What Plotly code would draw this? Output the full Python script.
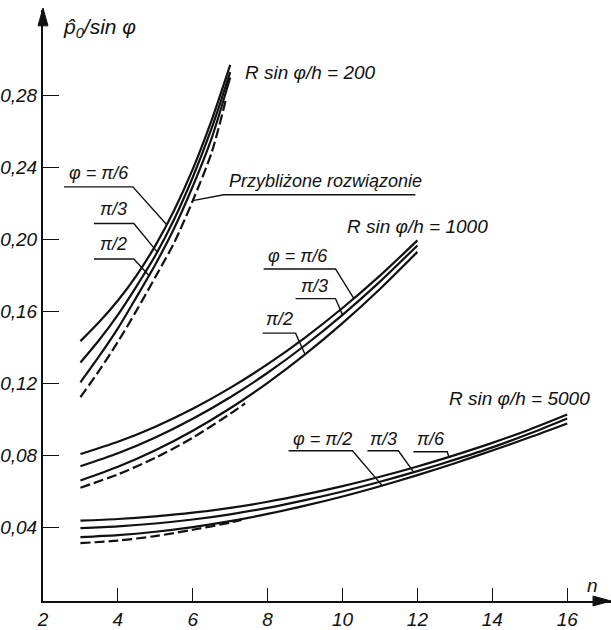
import numpy as np
import plotly.graph_objects as go

# ---------------- data ----------------
# R sin(phi)/h = 200
n200 = [3, 3.5, 4, 4.5, 5, 5.5, 6, 6.5, 7]
p200_pi6 = [0.1434, 0.1540, 0.1660, 0.1800, 0.1965, 0.2160, 0.2390, 0.2660, 0.2970]
p200_pi3 = [0.1315, 0.1440, 0.1580, 0.1740, 0.1910, 0.2110, 0.2345, 0.2615, 0.2930]
p200_pi2 = [0.1205, 0.1350, 0.1505, 0.1680, 0.1860, 0.2060, 0.2295, 0.2560, 0.2900]
n200_apx = [3, 3.5, 4, 4.5, 5, 5.5, 6, 6.5, 6.9]
p200_apx = [0.1123, 0.1270, 0.1430, 0.1605, 0.1790, 0.1980, 0.2215, 0.2480, 0.2790]

# R sin(phi)/h = 1000
n1000 = [3, 4, 5, 6, 7, 8, 9, 10, 11, 12]
p1000_pi6 = [0.0806, 0.0874, 0.0958, 0.1058, 0.1174, 0.1306, 0.1454, 0.1618, 0.1798, 0.1994]
p1000_pi3 = [0.0738, 0.0810, 0.0898, 0.1002, 0.1122, 0.1258, 0.1411, 0.1580, 0.1765, 0.1966]
p1000_pi2 = [0.0659, 0.0735, 0.0827, 0.0936, 0.1061, 0.1202, 0.1360, 0.1534, 0.1724, 0.1930]
n1000_apx = [3, 4, 5, 6, 7, 7.4]
p1000_apx = [0.0619, 0.0693, 0.0785, 0.0897, 0.1030, 0.1088]

# R sin(phi)/h = 5000
n5000 = [3, 4, 5, 6, 7, 8, 9, 10, 11, 12, 13, 14, 15, 16]
p5000_pi6 = [0.0436, 0.0445, 0.0460, 0.0480, 0.0507, 0.0541, 0.0582, 0.0628, 0.0680, 0.0737, 0.0800, 0.0868, 0.0943, 0.1026]
p5000_pi3 = [0.0394, 0.0404, 0.0420, 0.0442, 0.0471, 0.0507, 0.0550, 0.0598, 0.0652, 0.0711, 0.0775, 0.0843, 0.0920, 0.1004]
p5000_pi2 = [0.0344, 0.0355, 0.0374, 0.0400, 0.0433, 0.0473, 0.0519, 0.0570, 0.0627, 0.0689, 0.0755, 0.0826, 0.0899, 0.0976]
n5000_apx = [3, 4, 5, 6, 7, 7.3]
p5000_apx = [0.0311, 0.0325, 0.0350, 0.0385, 0.0425, 0.0440]

x_ticks = [2, 4, 6, 8, 10, 12, 14, 16]
x_ticktext = ["2", "4", "6", "8", "10", "12", "14", "16"]
y_ticks = [0.04, 0.08, 0.12, 0.16, 0.20, 0.24, 0.28]
y_ticktext = ["0,04", "0,08", "0,12", "0,16", "0,20", "0,24", "0,28"]

# ---------------- layout geometry ----------------
W, H = 611, 630
ML, MR, MT, MB = 42, 0, 10, 22
XR = [2, 17.17]
YR = [-0.0011, 0.3275]
PW, PH = W - ML - MR, H - MT - MB

FONT = "Liberation Sans Narrow, Liberation Sans, Arial, sans-serif"
BLACK = "#111"


def px2paper(px, py):
    return (px - ML) / PW, (H - MB - py) / PH


def data2px(n, v):
    px = ML + (n - XR[0]) / (XR[1] - XR[0]) * PW
    py = H - MB - (v - YR[0]) / (YR[1] - YR[0]) * PH
    return px, py


fig = go.Figure()

solid = dict(color=BLACK, width=2.2, shape="spline", smoothing=0.8)
dashed = dict(color=BLACK, width=2.2, dash="10px,4px", shape="spline", smoothing=0.8)

for nn, yy, ln in [
    (n200, p200_pi6, solid), (n200, p200_pi3, solid), (n200, p200_pi2, solid), (n200_apx, p200_apx, dashed),
    (n1000, p1000_pi6, solid), (n1000, p1000_pi3, solid), (n1000, p1000_pi2, solid), (n1000_apx, p1000_apx, dashed),
    (n5000, p5000_pi6, solid), (n5000, p5000_pi3, solid), (n5000, p5000_pi2, solid), (n5000_apx, p5000_apx, dashed),
]:
    fig.add_trace(go.Scatter(x=nn, y=yy, mode="lines", line=ln, showlegend=False, hoverinfo="skip"))

shapes = []
annotations = []


def leader(u_left, u_right, n_target, series_n, series_v):
    """underline from u_left to u_right (pixels), then a line to the curve."""
    v = float(np.interp(n_target, series_n, series_v))
    tx, ty = data2px(n_target, v)
    pts = [u_left, u_right, (tx, ty)]
    pp = [px2paper(*p) for p in pts]
    path = "M {} {} L {} {} L {} {}".format(pp[0][0], pp[0][1], pp[1][0], pp[1][1], pp[2][0], pp[2][1])
    shapes.append(dict(type="path", xref="paper", yref="paper", path=path,
                       line=dict(color=BLACK, width=1.4)))


def label(text, px, py, size=18, anchor="left"):
    xp, yp = px2paper(px, py)
    annotations.append(dict(text="<i>" + text + "</i>", xref="paper", yref="paper", x=xp, y=yp,
                            xanchor=anchor, yanchor="middle", showarrow=False,
                            font=dict(family=FONT, size=size, color=BLACK)))


# group 200
label("φ = π/6", 66, 175)
leader((63, 189), (132, 189), 5.3, n200, p200_pi6)
label("π/3", 97, 211)
leader((93, 226), (133, 226), 5.05, n200, p200_pi3)
label("π/2", 97, 247)
leader((93, 262), (133, 262), 4.83, n200, p200_pi2)
label("R sin φ/h = 200", 242, 73, size=19)
label("Przybliżone rozwiązonie", 226, 183, size=18)
leader((415, 197), (223, 197), 6.0, n200_apx, p200_apx)

# group 1000
label("R sin φ/h = 1000", 345, 229, size=19)
label("φ = π/6", 265, 259)
leader((263, 272), (335, 272), 10.3, n1000, p1000_pi6)
label("π/3", 298, 289)
leader((295, 302), (335, 302), 10.0, n1000, p1000_pi3)
label("π/2", 263, 323)
leader((262, 337), (295, 337), 9.0, n1000, p1000_pi2)

# group 5000
label("R sin φ/h = 5000", 447, 403, size=19)
label("φ = π/2", 290, 444)
leader((288, 456), (352, 456), 11.06, n5000, p5000_pi2)
label("π/3", 368, 444)
leader((367, 456), (398, 456), 11.9, n5000, p5000_pi3)
label("π/6", 415, 444)
leader((413, 457), (447, 457), 12.84, n5000, p5000_pi6)

# axis titles
label("p̂<sub>0</sub>/sin φ", 60, 28, size=21)
label("n", 592, 592, size=19, anchor="center")

# arrow heads
def tri(p1, p2, p3):
    a, b, c = px2paper(*p1), px2paper(*p2), px2paper(*p3)
    shapes.append(dict(type="path", xref="paper", yref="paper",
                       path="M {} {} L {} {} L {} {} Z".format(a[0], a[1], b[0], b[1], c[0], c[1]),
                       fillcolor=BLACK, line=dict(color=BLACK, width=1)))


tri((611, 608), (593, 603), (593, 613))
tri((42, 8), (37, 26), (47, 26))

fig.update_layout(
    width=W, height=H,
    margin=dict(l=ML, r=MR, t=MT, b=MB),
    paper_bgcolor="white", plot_bgcolor="white",
    shapes=shapes, annotations=annotations,
    showlegend=False,
    xaxis=dict(range=XR, showgrid=False, zeroline=False, showline=True, linecolor=BLACK, linewidth=2,
               ticks="inside", ticklen=13, tickwidth=1.4, tickcolor=BLACK,
               tickvals=x_ticks, ticktext=["<i>" + t + "</i>" for t in x_ticktext],
               tickfont=dict(family=FONT, size=19, color=BLACK)),
    yaxis=dict(range=YR, showgrid=False, zeroline=False, showline=True, linecolor=BLACK, linewidth=2,
               ticks="inside", ticklen=16, tickwidth=1.4, tickcolor=BLACK,
               tickvals=y_ticks, ticktext=["<i>" + t + "</i>" for t in y_ticktext],
               tickfont=dict(family=FONT, size=19, color=BLACK)),
)

fig.write_html("out.html")
